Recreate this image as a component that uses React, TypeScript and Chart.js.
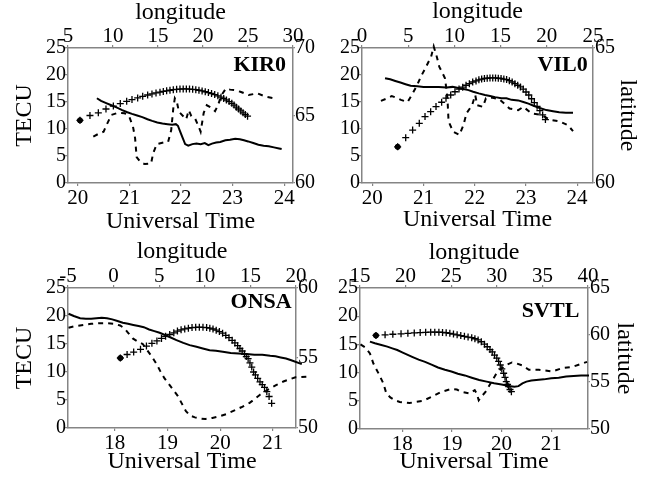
import { useEffect, useRef } from "react";
import { Chart, registerables } from "chart.js";

Chart.register(...registerables);

const FONT = "'Liberation Serif', 'Times New Roman', serif";
const GRAY = "#858585";

// ---------------- KIR0 ----------------
const KIR0_SOLID_UT = [20.37, 20.45, 20.55, 20.65, 20.75, 20.86, 20.96, 21.05, 21.15, 21.25, 21.35, 21.44, 21.54, 21.64, 21.74, 21.83, 21.9, 21.94, 21.98, 22.03, 22.08, 22.14, 22.22, 22.3, 22.38, 22.46, 22.53, 22.6, 22.68, 22.76, 22.86, 22.95, 23.05, 23.14, 23.22, 23.3, 23.4, 23.5, 23.6, 23.7, 23.8, 23.9, 23.95];
const KIR0_SOLID_TEC = [15.7, 15.2, 14.8, 14.4, 14.0, 13.5, 13.1, 12.8, 12.5, 12.2, 11.8, 11.5, 11.2, 11.0, 10.9, 10.8, 10.9, 10.6, 9.6, 8.4, 7.2, 6.9, 7.2, 7.3, 7.2, 7.4, 7.0, 7.3, 7.5, 7.6, 7.9, 8.0, 8.2, 8.1, 7.9, 7.7, 7.4, 7.1, 6.9, 6.8, 6.6, 6.4, 6.3];
const KIR0_DASH_UT = [20.3, 20.4, 20.5, 20.56, 20.65, 20.78, 20.91, 21.0, 21.07, 21.11, 21.14, 21.22, 21.3, 21.42, 21.46, 21.53, 21.66, 21.75, 21.81, 21.85, 21.88, 21.92, 21.96, 22.05, 22.1, 22.15, 22.2, 22.27, 22.34, 22.38, 22.44, 22.5, 22.58, 22.66, 22.72, 22.78, 22.87, 22.95, 23.03, 23.15, 23.31, 23.48, 23.64, 23.8];
const KIR0_DASH_TEC = [8.6, 9.1, 9.5, 10.8, 12.6, 13.0, 12.9, 12.2, 10.4, 8.3, 4.8, 3.8, 3.5, 3.6, 5.5, 7.2, 7.5, 7.6, 9.8, 13.8, 15.7, 15.0, 13.2, 12.3, 11.8, 13.5, 12.4, 12.0, 10.5, 9.5, 13.0, 14.4, 14.0, 13.3, 14.5, 16.2, 17.5, 17.3, 17.2, 16.9, 16.3, 16.6, 16.0, 15.7];
const KIR0_LON = [6.33, 7.44, 8.37, 9.22, 10.04, 10.81, 11.52, 12.11, 12.74, 13.3, 13.85, 14.33, 14.78, 15.22, 15.59, 15.96, 16.33, 16.7, 17.07, 17.44, 17.8, 18.15, 18.5, 18.85, 19.2, 19.55, 19.9, 20.25, 20.6, 20.95, 21.3, 21.65, 22.0, 22.3, 22.6, 22.9, 23.2, 23.45, 23.7, 23.95, 24.2, 24.45, 24.7, 24.95];
const KIR0_LAT = [64.64, 65.0, 65.2, 65.48, 65.7, 65.88, 66.05, 66.18, 66.3, 66.42, 66.52, 66.6, 66.67, 66.73, 66.78, 66.83, 66.87, 66.91, 66.94, 66.96, 66.97, 66.97, 66.96, 66.94, 66.91, 66.87, 66.82, 66.76, 66.7, 66.63, 66.55, 66.46, 66.36, 66.26, 66.15, 66.03, 65.9, 65.77, 65.62, 65.48, 65.34, 65.2, 65.07, 64.95];
const KIR0_UT_RANGE = [19.81, 24.17];
const KIR0_LON_RANGE = [5, 30];
const KIR0_LAT_RANGE = [60, 70];
const KIR0_UT_TICKS = [20, 21, 22, 23, 24];
const KIR0_LON_TICKS = [5, 10, 15, 20, 25, 30];
const KIR0_LAT_TICKS = [60, 65, 70];

// ---------------- VIL0 ----------------
const VIL0_SOLID_UT = [20.25, 20.35, 20.45, 20.55, 20.65, 20.75, 20.88, 21.0, 21.15, 21.3, 21.45, 21.57, 21.68, 21.78, 21.88, 21.97, 22.08, 22.2, 22.3, 22.4, 22.52, 22.62, 22.72, 22.85, 22.95, 23.05, 23.15, 23.27, 23.4, 23.53, 23.65, 23.78, 23.92];
const VIL0_SOLID_TEC = [19.4, 19.2, 18.9, 18.6, 18.3, 18.0, 17.9, 17.8, 17.8, 17.8, 17.7, 17.8, 17.6, 17.4, 17.2, 16.9, 16.6, 16.3, 16.1, 15.9, 15.7, 15.7, 15.4, 15.3, 15.0, 14.7, 14.3, 13.9, 13.5, 13.3, 13.1, 13.0, 13.0];
const VIL0_DASH_UT = [20.17, 20.27, 20.38, 20.47, 20.56, 20.69, 20.79, 20.88, 20.95, 21.05, 21.15, 21.2, 21.26, 21.31, 21.36, 21.42, 21.45, 21.47, 21.49, 21.58, 21.7, 21.78, 21.84, 21.95, 22.01, 22.05, 22.16, 22.22, 22.35, 22.48, 22.6, 22.68, 22.85, 22.95, 23.11, 23.3, 23.47, 23.66, 23.82, 23.92];
const VIL0_DASH_TEC = [15.2, 15.6, 16.1, 15.8, 15.4, 15.0, 16.6, 18.2, 19.7, 21.5, 23.4, 25.3, 23.4, 21.5, 20.6, 19.4, 17.2, 15.4, 11.4, 9.5, 8.9, 10.7, 12.9, 14.4, 16.3, 14.4, 14.1, 15.7, 15.8, 15.5, 14.5, 13.8, 13.5, 14.1, 12.9, 12.6, 11.7, 11.4, 10.7, 9.6];
const VIL0_LON = [3.86, 4.73, 5.48, 6.2, 6.82, 7.43, 8.01, 8.62, 9.09, 9.6, 10.06, 10.5, 10.9, 11.26, 11.62, 11.98, 12.34, 12.65, 12.95, 13.25, 13.55, 13.85, 14.15, 14.45, 14.75, 15.05, 15.35, 15.65, 15.95, 16.25, 16.55, 16.85, 17.15, 17.45, 17.75, 18.05, 18.35, 18.65, 18.95, 19.25, 19.55, 19.85];
const VIL0_LAT = [61.34, 61.68, 61.96, 62.21, 62.46, 62.64, 62.83, 62.99, 63.14, 63.26, 63.38, 63.48, 63.55, 63.62, 63.68, 63.74, 63.78, 63.82, 63.85, 63.87, 63.88, 63.89, 63.89, 63.89, 63.88, 63.87, 63.85, 63.83, 63.79, 63.74, 63.68, 63.62, 63.56, 63.48, 63.37, 63.26, 63.12, 62.98, 62.84, 62.68, 62.52, 62.35];
const VIL0_UT_RANGE = [19.8, 24.31];
const VIL0_LON_RANGE = [0, 25];
const VIL0_LAT_RANGE = [60, 65];
const VIL0_UT_TICKS = [20, 21, 22, 23, 24];
const VIL0_LON_TICKS = [0, 5, 10, 15, 20, 25];
const VIL0_LAT_TICKS = [60, 65];

// ---------------- ONSA ----------------
const ONSA_SOLID_UT = [17.12, 17.22, 17.34, 17.45, 17.55, 17.65, 17.75, 17.85, 17.95, 18.05, 18.15, 18.25, 18.35, 18.45, 18.55, 18.65, 18.75, 18.85, 18.95, 19.05, 19.17, 19.3, 19.42, 19.55, 19.67, 19.8, 19.92, 20.05, 20.2, 20.35, 20.5, 20.65, 20.8, 20.95, 21.05, 21.15, 21.25, 21.35, 21.55];
const ONSA_SOLID_TEC = [20.4, 20.0, 19.6, 19.5, 19.5, 19.6, 19.7, 19.6, 19.4, 19.1, 18.8, 18.6, 18.4, 18.2, 18.0, 17.6, 17.3, 17.0, 16.6, 16.2, 15.7, 15.2, 14.8, 14.5, 14.2, 13.9, 13.8, 13.6, 13.4, 13.3, 13.2, 13.1, 13.1, 12.9, 12.8, 12.6, 12.4, 12.1, 11.4];
const ONSA_DASH_UT = [17.12, 17.25, 17.4, 17.55, 17.7, 17.85, 18.0, 18.1, 18.18, 18.26, 18.34, 18.44, 18.53, 18.62, 18.7, 18.78, 18.86, 18.94, 19.02, 19.1, 19.19, 19.27, 19.35, 19.43, 19.52, 19.62, 19.72, 19.85, 19.99, 20.12, 20.24, 20.4, 20.56, 20.66, 20.75, 20.9, 21.07, 21.2, 21.32, 21.43, 21.7];
const ONSA_DASH_TEC = [17.9, 18.2, 18.4, 18.6, 18.7, 18.7, 18.6, 18.3, 17.8, 16.9, 16.0, 15.4, 15.0, 13.8, 12.8, 11.6, 10.2, 8.9, 7.9, 6.9, 5.8, 4.4, 3.0, 2.2, 1.9, 1.7, 1.6, 1.8, 2.1, 2.5, 3.0, 3.7, 4.5, 5.2, 5.9, 6.8, 7.7, 8.3, 8.7, 9.05, 9.2];
const ONSA_LON = [0.74, 1.48, 2.2, 2.95, 3.6, 4.2, 4.75, 5.25, 5.7, 6.15, 6.6, 7.0, 7.4, 7.8, 8.2, 8.6, 9.0, 9.4, 9.8, 10.2, 10.55, 10.9, 11.25, 11.6, 11.95, 12.3, 12.65, 13.0, 13.3, 13.6, 13.85, 14.1, 14.35, 14.55, 14.75, 14.95, 15.15, 15.35, 15.55, 15.8, 16.05, 16.3, 16.55, 16.8, 17.05, 17.33];
const ONSA_LAT = [55.0, 55.25, 55.42, 55.62, 55.85, 56.05, 56.22, 56.4, 56.55, 56.68, 56.8, 56.92, 57.01, 57.08, 57.13, 57.17, 57.19, 57.2, 57.19, 57.17, 57.13, 57.07, 56.99, 56.89, 56.77, 56.62, 56.45, 56.26, 56.08, 55.88, 55.68, 55.5, 55.28, 55.1, 54.95, 54.65, 54.35, 54.0, 53.8, 53.55, 53.3, 53.1, 52.9, 52.6, 52.25, 51.76];
const ONSA_UT_RANGE = [17.11, 21.44];
const ONSA_LON_RANGE = [-5, 20];
const ONSA_LAT_RANGE = [50, 60];
const ONSA_UT_TICKS = [18, 19, 20, 21];
const ONSA_LON_TICKS = [-5, 0, 5, 10, 15, 20];
const ONSA_LAT_TICKS = [50, 55, 60];

// ---------------- SVTL ----------------
const SVTL_SOLID_UT = [17.35, 17.45, 17.58, 17.7, 17.8, 17.9, 18.0, 18.1, 18.2, 18.33, 18.46, 18.59, 18.72, 18.86, 18.99, 19.12, 19.26, 19.4, 19.55, 19.7, 19.85, 20.0, 20.1, 20.18, 20.26, 20.34, 20.42, 20.5, 20.6, 20.7, 20.85, 21.0, 21.15, 21.3, 21.45, 21.6, 21.76];
const SVTL_SOLID_TEC = [15.5, 15.2, 14.9, 14.6, 14.3, 14.0, 13.6, 13.2, 12.8, 12.3, 11.9, 11.4, 10.9, 10.5, 10.2, 9.8, 9.5, 9.1, 8.7, 8.4, 8.1, 7.9, 7.7, 7.6, 7.5, 7.6, 8.1, 8.4, 8.6, 8.7, 8.8, 9.0, 9.1, 9.3, 9.4, 9.5, 9.5];
const SVTL_DASH_UT = [17.16, 17.25, 17.35, 17.42, 17.52, 17.62, 17.68, 17.76, 17.85, 17.95, 18.05, 18.15, 18.26, 18.42, 18.59, 18.79, 18.99, 19.1, 19.19, 19.36, 19.46, 19.5, 19.54, 19.61, 19.68, 19.78, 19.88, 19.98, 20.08, 20.21, 20.31, 20.41, 20.55, 20.75, 21.02, 21.22, 21.42, 21.62, 21.72];
const SVTL_DASH_TEC = [15.0, 14.5, 13.4, 11.6, 9.9, 8.1, 6.3, 5.6, 5.1, 4.8, 4.7, 4.6, 4.8, 5.0, 5.7, 6.6, 7.1, 7.0, 6.6, 6.3, 6.9, 6.3, 5.1, 5.9, 6.6, 8.1, 9.6, 10.6, 11.3, 11.8, 11.6, 11.3, 10.5, 10.5, 10.2, 10.8, 11.0, 11.6, 11.9];
const SVTL_LON = [16.75, 17.75, 18.6, 19.5, 20.25, 20.95, 21.6, 22.2, 22.75, 23.2, 23.65, 24.05, 24.45, 24.85, 25.25, 25.65, 26.05, 26.45, 26.85, 27.25, 27.6, 27.95, 28.3, 28.65, 28.95, 29.25, 29.5, 29.75, 30.0, 30.2, 30.38, 30.55, 30.75, 30.9, 31.04, 31.18, 31.3, 31.45, 31.6];
const SVTL_LAT = [59.95, 60.02, 60.08, 60.13, 60.18, 60.22, 60.26, 60.28, 60.3, 60.3, 60.29, 60.27, 60.24, 60.18, 60.1, 60.02, 59.94, 59.86, 59.78, 59.72, 59.6, 59.48, 59.28, 59.02, 58.75, 58.45, 58.2, 57.85, 57.55, 57.2, 56.81, 56.4, 55.93, 55.5, 55.04, 54.75, 54.5, 54.2, 53.97];
const SVTL_UT_RANGE = [17.15, 21.74];
const SVTL_LON_RANGE = [15, 40];
const SVTL_LAT_RANGE = [50, 65];
const SVTL_UT_TICKS = [18, 19, 20, 21];
const SVTL_LON_TICKS = [15, 20, 25, 30, 35, 40];
const SVTL_LAT_TICKS = [50, 55, 60, 65];

const TEC_RANGE = [0, 25];
const TEC_TICKS = [0, 5, 10, 15, 20, 25];

type Panel = {
  name: string;
  solidUT: number[]; solidTEC: number[];
  dashUT: number[]; dashTEC: number[];
  lon: number[]; lat: number[];
  utRange: number[]; lonRange: number[]; latRange: number[];
  utTicks: number[]; lonTicks: number[]; latTicks: number[];
  showTECU: boolean; showLat: boolean;
  box: { left: number; top: number; width: number; height: number; l: number; r: number; t: number; b: number };
  pad: { lon: number; ut: number; tecu: number; lat: number };
  label: { dx: number; dy: number };
  clipRight: number;
};

const PANELS: Panel[] = [
  {
    name: "KIR0",
    solidUT: KIR0_SOLID_UT, solidTEC: KIR0_SOLID_TEC, dashUT: KIR0_DASH_UT, dashTEC: KIR0_DASH_TEC,
    lon: KIR0_LON, lat: KIR0_LAT,
    utRange: KIR0_UT_RANGE, lonRange: KIR0_LON_RANGE, latRange: KIR0_LAT_RANGE,
    utTicks: KIR0_UT_TICKS, lonTicks: KIR0_LON_TICKS, latTicks: KIR0_LAT_TICKS,
    showTECU: true, showLat: false,
    box: { left: 0, top: 0, width: 323, height: 240, l: 68, r: 30, t: 48, b: 57 },
    pad: { lon: 0.6, ut: 6.1, tecu: 12.9, lat: 0 },
    label: { dx: 7, dy: 22.7 },
    clipRight: 3,
  },
  {
    name: "VIL0",
    solidUT: VIL0_SOLID_UT, solidTEC: VIL0_SOLID_TEC, dashUT: VIL0_DASH_UT, dashTEC: VIL0_DASH_TEC,
    lon: VIL0_LON, lat: VIL0_LAT,
    utRange: VIL0_UT_RANGE, lonRange: VIL0_LON_RANGE, latRange: VIL0_LAT_RANGE,
    utTicks: VIL0_UT_TICKS, lonTicks: VIL0_LON_TICKS, latTicks: VIL0_LAT_TICKS,
    showTECU: false, showLat: true,
    box: { left: 323, top: 0, width: 323, height: 240, l: 39, r: 53, t: 48, b: 57 },
    pad: { lon: 0, ut: 7.8, tecu: 0, lat: 6.9 },
    label: { dx: 5.3, dy: 23.3 },
    clipRight: 3,
  },
  {
    name: "ONSA",
    solidUT: ONSA_SOLID_UT, solidTEC: ONSA_SOLID_TEC, dashUT: ONSA_DASH_UT, dashTEC: ONSA_DASH_TEC,
    lon: ONSA_LON, lat: ONSA_LAT,
    utRange: ONSA_UT_RANGE, lonRange: ONSA_LON_RANGE, latRange: ONSA_LAT_RANGE,
    utTicks: ONSA_UT_TICKS, lonTicks: ONSA_LON_TICKS, latTicks: ONSA_LAT_TICKS,
    showTECU: true, showLat: false,
    box: { left: 0, top: 240, width: 323, height: 243, l: 68, r: 27, t: 48, b: 55 },
    pad: { lon: 0, ut: 9.1, tecu: 13.2, lat: 0 },
    label: { dx: 4.3, dy: 20.3 },
    clipRight: 16,
  },
  {
    name: "SVTL",
    solidUT: SVTL_SOLID_UT, solidTEC: SVTL_SOLID_TEC, dashUT: SVTL_DASH_UT, dashTEC: SVTL_DASH_TEC,
    lon: SVTL_LON, lat: SVTL_LAT,
    utRange: SVTL_UT_RANGE, lonRange: SVTL_LON_RANGE, latRange: SVTL_LAT_RANGE,
    utTicks: SVTL_UT_TICKS, lonTicks: SVTL_LON_TICKS, latTicks: SVTL_LAT_TICKS,
    showTECU: false, showLat: true,
    box: { left: 323, top: 240, width: 323, height: 243, l: 37, r: 58, t: 48, b: 54 },
    pad: { lon: 0.6, ut: 9.1, tecu: 0, lat: 9.9 },
    label: { dx: 8.7, dy: 29.3 },
    clipRight: 4,
  },
];

const stationLabel = {
  id: "stationLabel",
  afterDatasetsDraw(chart: any, _args: any, opts: any) {
    const { ctx, chartArea } = chart;
    ctx.save();
    ctx.font = `bold 22px ${FONT}`;
    ctx.fillStyle = "#000";
    ctx.textAlign = "right";
    ctx.textBaseline = "alphabetic";
    ctx.fillText(opts.text, chartArea.right - opts.dx, chartArea.top + opts.dy);
    ctx.restore();
  },
};

const yTickFont = { family: FONT, size: 20, lineHeight: 1 };
const xTickFont = { family: FONT, size: 21, lineHeight: 1 };
const titleFont = { family: FONT, size: 24, lineHeight: 1 };

function fixedTicks(values: number[]) {
  return (s: any) => {
    s.ticks = values.map((v) => ({ value: v }));
  };
}

function makeConfig(p: Panel): any {
  const xy = (xs: number[], ys: number[]) => xs.map((x, i) => ({ x, y: ys[i] }));
  const clip = { left: 3, top: 5, right: p.clipRight, bottom: 3 };
  const grid = (len: number) => ({
    display: true,
    drawOnChartArea: false,
    drawTicks: true,
    tickLength: len,
    color: GRAY,
    lineWidth: 1.2,
  });
  const border = { display: true, color: GRAY, width: 1.5 };
  return {
    type: "scatter",
    data: {
      datasets: [
        {
          data: xy(p.solidUT, p.solidTEC),
          showLine: true,
          borderColor: "#000",
          borderWidth: 2,
          pointRadius: 0,
          xAxisID: "x",
          yAxisID: "y",
          clip,
        },
        {
          data: xy(p.dashUT, p.dashTEC),
          showLine: true,
          borderColor: "#000",
          borderWidth: 2,
          borderDash: [5, 5],
          pointRadius: 0,
          xAxisID: "x",
          yAxisID: "y",
          clip,
        },
        {
          data: xy(p.lon, p.lat),
          showLine: false,
          pointStyle: "cross",
          pointRadius: 3.5,
          pointBorderWidth: 1.3,
          pointBorderColor: "#000",
          pointBackgroundColor: "#000",
          xAxisID: "x2",
          yAxisID: "y2",
          clip,
        },
        {
          data: xy(p.lon.slice(0, 1), p.lat.slice(0, 1)),
          showLine: false,
          pointStyle: "circle",
          pointRadius: 2.6,
          pointBorderWidth: 1,
          pointBorderColor: "#000",
          pointBackgroundColor: "#000",
          xAxisID: "x2",
          yAxisID: "y2",
          clip,
        },
      ],
    },
    options: {
      animation: false,
      responsive: false,
      maintainAspectRatio: false,
      events: [],
      layout: { padding: 0 },
      plugins: {
        legend: { display: false },
        tooltip: { enabled: false },
        stationLabel: { text: p.name, dx: p.label.dx, dy: p.label.dy },
      },
      scales: {
        x: {
          type: "linear",
          position: "bottom",
          min: p.utRange[0],
          max: p.utRange[1],
          afterBuildTicks: fixedTicks(p.utTicks),
          afterFit: (s: any) => { s.height = p.box.b; },
          ticks: { font: xTickFont, color: "#000", padding: 2, maxRotation: 0, autoSkip: false },
          grid: grid(3),
          border,
          title: { display: true, text: "Universal Time", font: titleFont, color: "#000", padding: { top: 0, bottom: p.pad.ut } },
        },
        x2: {
          type: "linear",
          position: "top",
          min: p.lonRange[0],
          max: p.lonRange[1],
          afterBuildTicks: fixedTicks(p.lonTicks),
          afterFit: (s: any) => { s.height = p.box.t; },
          ticks: { font: xTickFont, color: "#000", padding: -2, maxRotation: 0, autoSkip: false },
          grid: grid(3),
          border,
          title: { display: true, text: "longitude", font: titleFont, color: "#000", padding: { top: p.pad.lon, bottom: 0 } },
        },
        y: {
          type: "linear",
          position: "left",
          min: TEC_RANGE[0],
          max: TEC_RANGE[1],
          afterBuildTicks: fixedTicks(TEC_TICKS),
          afterFit: (s: any) => { s.width = p.box.l; },
          ticks: { font: yTickFont, color: "#000", padding: -1, autoSkip: false },
          grid: grid(3),
          border,
          title: { display: p.showTECU, text: "TECU", font: titleFont, color: "#000", padding: { top: p.pad.tecu, bottom: 0 } },
        },
        y2: {
          type: "linear",
          position: "right",
          min: p.latRange[0],
          max: p.latRange[1],
          afterBuildTicks: fixedTicks(p.latTicks),
          afterFit: (s: any) => { s.width = p.box.r; },
          ticks: { font: yTickFont, color: "#000", padding: 0, autoSkip: false },
          grid: grid(2),
          border,
          title: { display: p.showLat, text: "latitude", font: titleFont, color: "#000", padding: { top: p.pad.lat, bottom: 0 } },
        },
      },
    },
    plugins: [stationLabel],
  };
}

function PanelChart({ p }: { p: Panel }) {
  const ref = useRef<HTMLCanvasElement | null>(null);
  useEffect(() => {
    if (!ref.current) return;
    const chart = new Chart(ref.current, makeConfig(p));
    return () => chart.destroy();
  }, [p]);
  return (
    <canvas
      ref={ref}
      width={p.box.width}
      height={p.box.height}
      style={{
        position: "absolute",
        left: p.box.left,
        top: p.box.top,
        width: p.box.width,
        height: p.box.height,
        display: "block",
      }}
    />
  );
}

export default function App() {
  return (
    <div
      style={{
        position: "fixed",
        left: 0,
        top: 0,
        width: 646,
        height: 483,
        background: "#fff",
        overflow: "hidden",
      }}
    >
      {PANELS.map((p) => (
        <PanelChart key={p.name} p={p} />
      ))}
    </div>
  );
}
